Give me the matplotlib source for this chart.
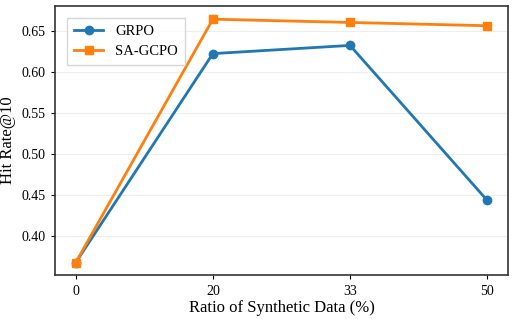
import matplotlib
matplotlib.use("Agg")
import matplotlib.pyplot as plt

ratios = ["0", "20", "33", "50"]
grpo = [0.367, 0.622, 0.632, 0.443]
sa_gcpo = [0.367, 0.664, 0.660, 0.656]

plt.rcParams["font.family"] = ["Liberation Serif", "DejaVu Serif"]

fig, ax = plt.subplots(figsize=(5.15, 3.19), dpi=100)
fig.subplots_adjust(left=0.107, right=0.986, top=0.981, bottom=0.138)

xs = list(range(len(ratios)))
ax.plot(xs, grpo, color="#1f77b4", marker="o", markersize=6, linewidth=2, label="GRPO")
ax.plot(xs, sa_gcpo, color="#ff7f0e", marker="s", markersize=6, linewidth=2, label="SA-GCPO")

ax.set_xticks(xs)
ax.set_xticklabels(ratios)
ax.set_xlim(-0.15, 3.15)
ax.set_ylim(0.352, 0.68)
ax.set_yticks([0.40, 0.45, 0.50, 0.55, 0.60, 0.65])
ax.tick_params(labelsize=10, length=3, pad=4)
ax.set_xlabel("Ratio of Synthetic Data (%)", fontsize=12, labelpad=2)
ax.set_ylabel("Hit Rate@10", fontsize=12, labelpad=4)
ax.yaxis.grid(True, color="#eeeeee", linewidth=0.8)
ax.set_axisbelow(True)
for s in ax.spines.values():
    s.set_color("#333333")
    s.set_linewidth(1.2)

leg = ax.legend(loc="upper left", fontsize=10.5, fancybox=False, edgecolor="#cccccc",
                borderpad=0.5, handlelength=2.0, labelspacing=0.45, borderaxespad=0.8)

fig.savefig("out.png", dpi=100)
